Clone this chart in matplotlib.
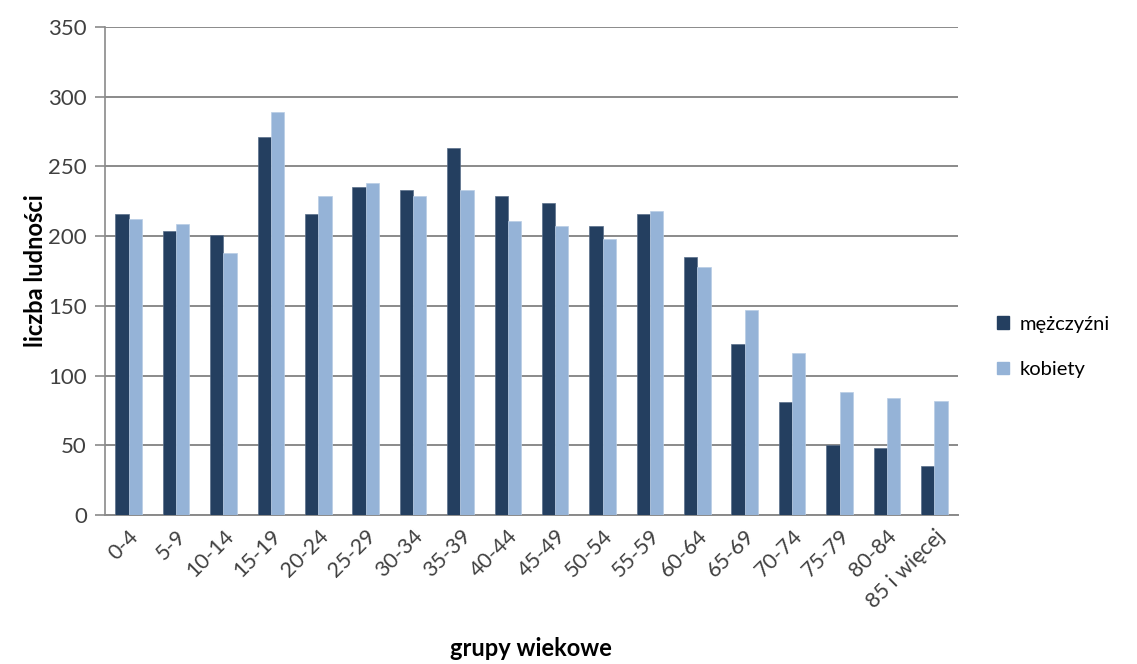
import matplotlib
matplotlib.use("Agg")
import matplotlib.pyplot as plt
import numpy as np
from matplotlib.patches import Patch

plt.rcParams['font.family'] = ['Lato', 'DejaVu Sans']

age_groups = ["0-4", "5-9", "10-14", "15-19", "20-24", "25-29", "30-34", "35-39",
              "40-44", "45-49", "50-54", "55-59", "60-64", "65-69", "70-74", "75-79",
              "80-84", "85 i więcej"]
men = [216, 204, 201, 271, 216, 235, 233, 263, 229, 224, 207, 216, 185, 123, 81, 50, 48, 35]
women = [212, 209, 188, 289, 229, 238, 229, 233, 211, 207, 198, 218, 178, 147, 116, 88, 84, 82]
y_ticks = [0, 50, 100, 150, 200, 250, 300, 350]

men_color = "#243F60"
women_color = "#95B3D7"
grid_color = "#8A8A8A"
text_color = "#404040"

fig = plt.figure(figsize=(11.37, 6.64), dpi=100)
ax = fig.add_axes([105 / 1137, 1 - 515 / 664, (958 - 105) / 1137, (515 - 27) / 664])

x = np.arange(len(age_groups))
w = 0.28
ax.bar(x - w / 2, men, width=w, color=men_color, edgecolor="#5A6F8A", linewidth=0.5, zorder=3)
ax.bar(x + w / 2, women, width=w, color=women_color, edgecolor="#B9CDE5", linewidth=0.5, zorder=3)

ax.set_xlim(-0.5, len(age_groups) - 0.5)
ax.set_ylim(0, 350)
ax.set_yticks(y_ticks)
ax.yaxis.grid(True, color=grid_color, linewidth=1.4, zorder=0)
ax.set_axisbelow(True)

for s in ["top", "right"]:
    ax.spines[s].set_visible(False)
ax.spines["left"].set_color(grid_color)
ax.spines["left"].set_linewidth(1.2)
ax.spines["bottom"].set_color(grid_color)
ax.spines["bottom"].set_linewidth(1.4)

ax.tick_params(axis="y", direction="out", length=7, width=1.2, color=grid_color,
               labelsize=16, labelcolor=text_color, pad=6)
ax.tick_params(axis="x", length=0, labelsize=15.5, labelcolor=text_color, pad=8)
ax.set_xticks(x)
ax.set_xticklabels(age_groups, rotation=45, ha="right", rotation_mode="anchor")

ax.set_ylabel("liczba ludności", fontsize=17, fontweight="bold", color="black", labelpad=1)
fig.text(531 / 1137, 1 - 648 / 664, "grupy wiekowe", fontsize=17, fontweight="bold",
         ha="center", va="center", color="black")

handles = [Patch(facecolor=men_color, edgecolor=men_color),
           Patch(facecolor=women_color, edgecolor=women_color)]
fig.legend(handles, ["mężczyźni", "kobiety"], loc="center left",
           bbox_to_anchor=(979 / 1137, 1 - 347 / 664), frameon=False,
           fontsize=14.5, handlelength=0.6, handleheight=0.6, handletextpad=0.5,
           labelspacing=1.4, labelcolor="black")

fig.savefig("out.png", dpi=100)
